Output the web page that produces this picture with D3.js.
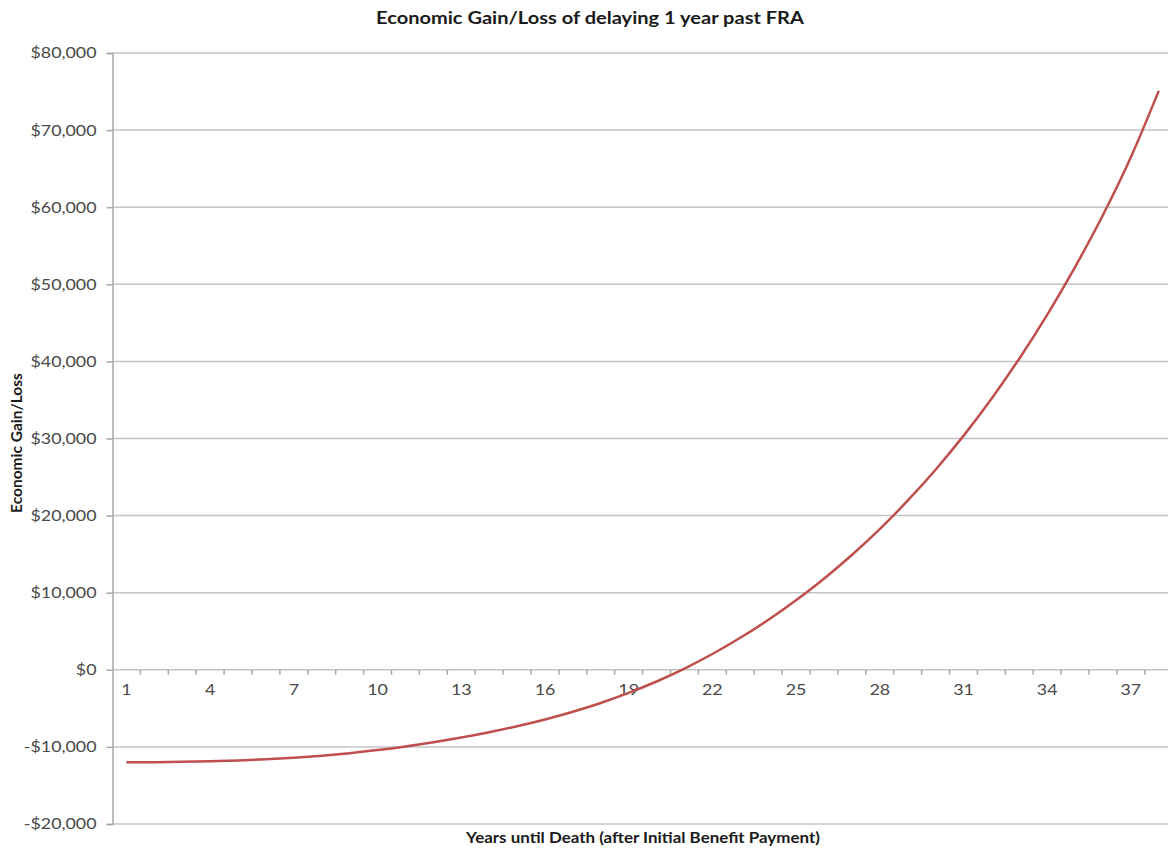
<!DOCTYPE html>
<html>
<head>
<meta charset="utf-8">
<script src="https://cdn.jsdelivr.net/npm/d3@7"></script>
<style>
  html, body { margin: 0; padding: 0; background: #fff; }
  svg { display: block; }
</style>
</head>
<body>
<svg id="chart" width="1168" height="849"></svg>
<script>
const years = d3.range(1, 39);
const gainLoss = [
  -12000, -11980, -11935, -11860, -11750, -11600, -11400, -11140, -10810, -10410,
  -9940, -9400, -8790, -8100, -7320, -6440, -5440, -4300, -3000, -1520,
  160, 2050, 4150, 6470, 9020, 11820, 14890, 18250, 21930, 25950,
  30340, 35130, 40350, 46040, 52240, 58990, 66490, 75090
];
const yTicks = [-20000, -10000, 0, 10000, 20000, 30000, 40000, 50000, 60000, 70000, 80000];
const xLabels = [1, 4, 7, 10, 13, 16, 19, 22, 25, 28, 31, 34, 37];

const title = "Economic Gain/Loss of delaying 1 year past FRA";
const xTitle = "Years until Death (after Initial Benefit Payment)";
const yTitle = "Economic Gain/Loss";

const svg = d3.select("#chart");
const font = "Lato, 'Open Sans', sans-serif";
const plotLeft = 112.5, plotTop = 53, plotBottom = 824, band = 27.9;
const sx = 1.15; // horizontal stretch of the reference's lettering

const x = d3.scaleBand().domain(years).range([plotLeft, plotLeft + band * years.length]).paddingInner(0).paddingOuter(0);
const y = d3.scaleLinear().domain([-20000, 80000]).range([plotBottom, plotTop]);

// gridlines
svg.append("g").selectAll("line").data(yTicks).join("line")
  .attr("x1", plotLeft).attr("x2", 1168)
  .attr("y1", d => y(d)).attr("y2", d => y(d))
  .attr("stroke", "#c4c4c4").attr("stroke-width", 1.5);

// y axis
const yAxis = d3.axisLeft(y).tickValues(yTicks).tickSize(6).tickPadding(10)
  .tickFormat(d => (d < 0 ? "-$" : "$") + d3.format(",")(Math.abs(d)));
const gy = svg.append("g").attr("transform", `translate(${plotLeft},0)`).call(yAxis);
gy.select(".domain").attr("stroke", "#a8a8a8").attr("stroke-width", 1.5);
gy.selectAll(".tick line").attr("stroke", "#a8a8a8").attr("stroke-width", 1.5);
gy.selectAll(".tick text").attr("fill", "#4a4a4a").style("font-family", font).style("font-size", "15.5px")
  .attr("x", -16 / sx).attr("transform", `scale(${sx},1)`);

// x axis at zero
const xAxis = d3.axisBottom(x).tickSize(0).tickPadding(14)
  .tickFormat(d => xLabels.includes(d) ? d : "");
const gx = svg.append("g").attr("transform", `translate(0,${y(0)})`).call(xAxis);
gx.select(".domain").remove();
gx.selectAll(".tick text").attr("fill", "#4a4a4a").style("font-family", font).style("font-size", "15.5px")
  .attr("transform", `scale(${sx},1)`);
// minor tick marks at category boundaries
svg.append("g").selectAll("line").data(years).join("line")
  .attr("x1", d => x(d) + band).attr("x2", d => x(d) + band)
  .attr("y1", y(0)).attr("y2", y(0) + 5)
  .attr("stroke", "#a8a8a8").attr("stroke-width", 1.5);

// line
const line = d3.line()
  .x((d, i) => x(years[i]) + x.bandwidth() / 2)
  .y(d => y(d))
  .curve(d3.curveMonotoneX);
svg.append("path").datum(gainLoss)
  .attr("d", line).attr("fill", "none")
  .attr("stroke", "#bf4f4d").attr("stroke-width", 2.5);

// titles
svg.append("g").attr("transform", `translate(590,24) scale(1.18,1)`)
  .append("text").attr("text-anchor", "middle")
  .style("font-family", font).style("font-weight", "bold").style("font-size", "17px")
  .attr("fill", "#1a1a1a").text(title);
svg.append("g").attr("transform", `translate(643,843) scale(1.13,1)`)
  .append("text").attr("text-anchor", "middle")
  .style("font-family", font).style("font-weight", "bold").style("font-size", "15px")
  .attr("fill", "#1a1a1a").text(xTitle);
svg.append("text").attr("transform", "translate(22,443) rotate(-90)").attr("text-anchor", "middle")
  .style("font-family", font).style("font-weight", "bold").style("font-size", "15.5px")
  .attr("fill", "#1a1a1a").text(yTitle);
</script>
</body>
</html>
